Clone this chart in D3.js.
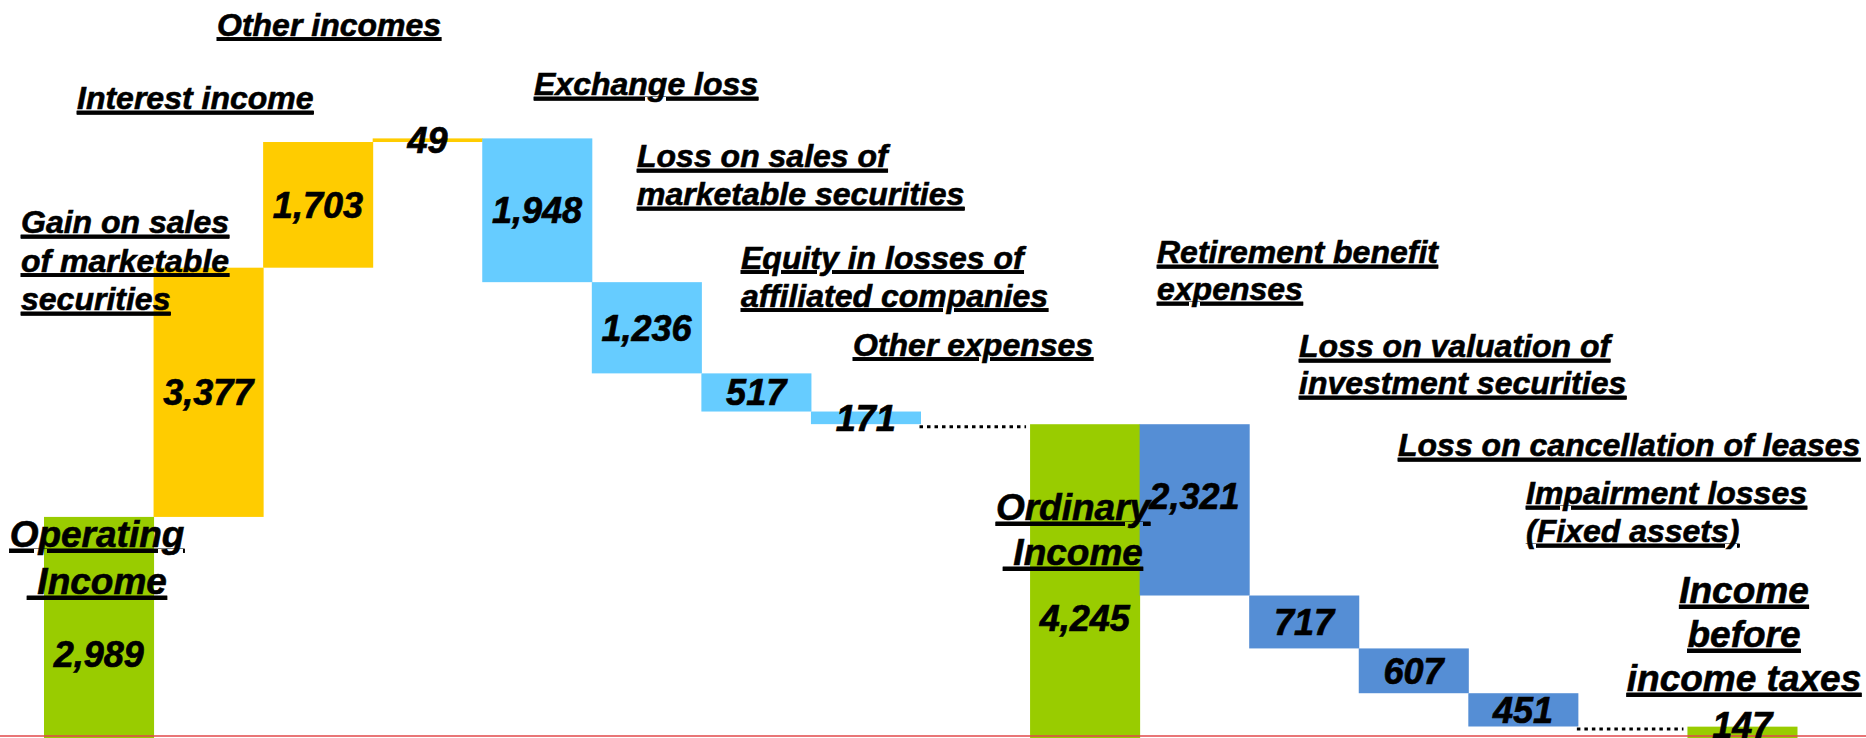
<!DOCTYPE html>
<html>
<head>
<meta charset="utf-8">
<script src="https://cdn.jsdelivr.net/npm/d3@7"></script>
<style>
    html, body { margin: 0; padding: 0; background: #fff; overflow: hidden; }
    text { font-family: "Liberation Sans", Arial, sans-serif; font-weight: bold; font-style: italic; white-space: pre; }
</style>
</head>
<body>
<script>
    // waterfall data (million yen)
    var categories = [
        "Operating\n Income",
        "Gain on sales\nof marketable\nsecurities",
        "Interest income",
        "Other incomes",
        "Exchange loss",
        "Loss on sales of\nmarketable securities",
        "Equity in losses of\naffiliated companies",
        "Other expenses",
        "",
        "Ordinary\n Income",
        "Retirement benefit\nexpenses",
        "Loss on valuation of\ninvestment securities",
        "Loss on cancellation of leases",
        "Impairment losses\n(Fixed assets)",
        "",
        "Income\nbefore\nincome taxes"
    ];
    var values = [2989, 3377, 1703, 49, 1948, 1236, 517, 171, null, 4245, 2321, 717, 607, 451, null, 147];
    var kinds = ["total", "income", "income", "income", "expense", "expense", "expense", "expense", "spacer",
                 "total", "special", "special", "special", "special", "spacer", "total"];

    // where each category caption sits
    var labelPos = [
        {x: 97, y: 547, lh: 47, size: 37, anchor: "middle"},
        {x: 21, y: 233, lh: 38.5},
        {x: 77, y: 109},
        {x: 217, y: 35.5},
        {x: 534, y: 95},
        {x: 637, y: 167, lh: 38},
        {x: 741, y: 268.5, lh: 38},
        {x: 853, y: 355.5},
        null,
        {x: 1073, y: 520, lh: 45, size: 37, anchor: "middle"},
        {x: 1157, y: 263, lh: 37},
        {x: 1299, y: 357, lh: 37},
        {x: 1398, y: 456},
        {x: 1526, y: 504, lh: 38},
        null,
        {x: 1744, y: 603, lh: 44, size: 37, anchor: "middle"}
    ];
    // the 2,321 label sits a bit above its bar centre
    var valueShift = {10: -14};

    var width = 1866;
    var height = 738;

    var svg = d3.select("body").append("svg")
        .attr("width", width)
        .attr("height", height);

    var color = {
        total: "#99CC00",
        income: "#FFCC00",
        expense: "#66CCFF",
        special: "#558ED5"
    };

    var running = 0;
    var bars = values.map(function(v, i) {
        var k = kinds[i], lo, hi;
        if (k === "total") { lo = 0; hi = v; running = v; }
        else if (k === "income") { lo = running; hi = running + v; running = hi; }
        else if (k === "spacer") { lo = running; hi = running; }
        else { lo = running - v; hi = running; running = lo; }
        return {i: i, kind: k, value: v, lo: lo, hi: hi};
    });

    var x = d3.scaleBand()
        .domain(d3.range(categories.length))
        .range([44, 1797])
        .padding(0);

    var y = d3.scaleLinear()
        .domain([0, d3.max(bars, function(d) { return d.hi; })])
        .range([737.5, 138.4]);

    // bars
    svg.append("g")
        .selectAll("rect")
        .data(bars.filter(function(d) { return d.kind !== "spacer"; }))
        .enter().append("rect")
          .attr("x", function(d) { return x(d.i); })
          .attr("y", function(d) { return y(d.hi); })
          .attr("width", x.bandwidth() + 0.5)
          .attr("height", function(d) { return (d.kind === "total" ? height + 5 : y(d.lo)) - y(d.hi); })
          .attr("fill", function(d) { return color[d.kind]; });

    // dotted connectors in the spacer slots
    svg.append("g")
        .selectAll("line")
        .data(bars.filter(function(d) { return d.kind === "spacer"; }))
        .enter().append("line")
          .attr("x1", function(d) { return x(d.i) - 1; })
          .attr("x2", function(d) { return x(d.i) + x.bandwidth() - 4; })
          .attr("y1", function(d) { return y(d.hi) + 2.5; })
          .attr("y2", function(d) { return y(d.hi) + 2.5; })
          .attr("stroke", "#000")
          .attr("stroke-width", 3)
          .attr("stroke-dasharray", "3.5,4");

    // red base line
    svg.append("line")
        .attr("x1", 0)
        .attr("x2", width)
        .attr("y1", 736)
        .attr("y2", 736)
        .attr("stroke", "#E2474A")
        .attr("stroke-width", 1.5);

    // category captions
    var caps = svg.append("g")
        .selectAll("text")
        .data(bars.filter(function(d) { return labelPos[d.i]; }))
        .enter().append("text")
          .attr("font-size", function(d) { return labelPos[d.i].size || 32; })
          .attr("text-anchor", function(d) { return labelPos[d.i].anchor || "start"; })
          .attr("text-decoration", "underline")
          .attr("fill", "#000")
          .attr("stroke", "#000")
          .attr("stroke-width", 0.6);

    caps.selectAll("tspan")
        .data(function(d) {
            var p = labelPos[d.i];
            return categories[d.i].split("\n").map(function(t, j) {
                return {text: t, x: p.x, y: p.y + j * (p.lh || 38)};
            });
        })
        .enter().append("tspan")
          .attr("x", function(t) { return t.x; })
          .attr("y", function(t) { return t.y; })
          .attr("text-decoration", "underline")
          .text(function(t) { return t.text; });

    // value labels
    svg.append("g")
        .selectAll("text")
        .data(bars.filter(function(d) { return d.kind !== "spacer"; }))
        .enter().append("text")
          .attr("x", function(d) { return x(d.i) + x.bandwidth() / 2; })
          .attr("y", function(d) {
              var c;
              if (d.kind === "total") {
                  c = Math.min(y(0) - 0.38 * (y(0) - y(d.hi)), y(0) - 12);
              } else {
                  c = (y(d.lo) + y(d.hi)) / 2;
              }
              return c + (valueShift[d.i] || 0);
          })
          .attr("dy", "0.36em")
          .attr("text-anchor", "middle")
          .attr("font-size", 36)
          .attr("fill", "#000")
          .attr("stroke", "#000")
          .attr("stroke-width", 0.7)
          .text(function(d) { return d3.format(",")(d.value); });
</script>
</body>
</html>
